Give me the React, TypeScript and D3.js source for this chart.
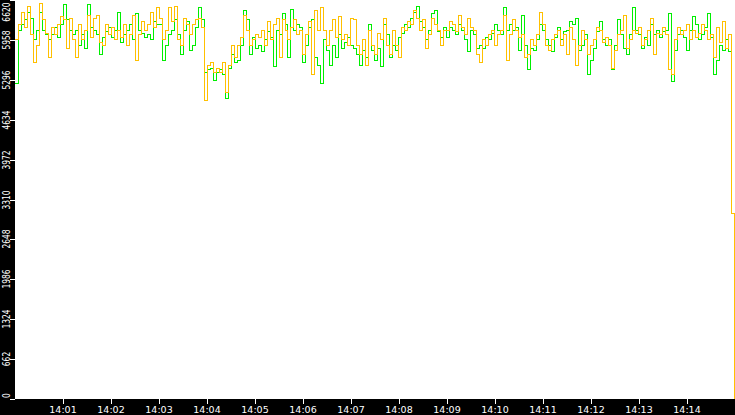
import React from "react";
import * as d3 from "d3";

const W = 735;
const H = 415;

const yTicks = [0, 662, 1324, 1986, 2648, 3310, 3972, 4634, 5296, 5958, 6620];
const xTickLabels = ["14:01", "14:02", "14:03", "14:04", "14:05", "14:06", "14:07", "14:08", "14:09", "14:10", "14:11", "14:12", "14:13", "14:14"];
const sampleSeconds = 3.75;

const orangeValues = [
  5960, 6210, 6420, 6160, 6520, 6040, 5590, 5870, 6570, 6290, 6070, 5660, 6160, 6040, 6210, 6340, 6290, 5820, 6320, 5960, 5660, 6210, 5960, 6120, 6370, 5990, 6320, 6370, 5920, 5870, 6210, 6040, 6160, 5960, 6120, 5990, 6210, 5870, 6040, 6370, 5620, 6040, 6260, 6120, 6210, 6420, 6160, 6490,
  6320, 5960, 6120, 6490, 6260, 6520, 5960, 5870, 6320, 6210, 6040, 6210, 6290, 6320, 6160, 4960, 5540, 5590, 5420, 5490, 5420, 5590, 5090, 5540, 5870, 5660, 5870, 5990, 6370, 6120, 5870, 5960, 6040, 5990, 6120, 5870, 6260, 5960, 6210, 6320, 5660, 6290, 6120, 5960, 6160, 6290, 6040, 6120,
  5710, 6040, 6260, 5380, 6450, 6120, 6490, 6120, 5870, 6120, 6290, 5990, 6340, 5960, 6040, 5870, 6320, 6290, 5870, 5710, 5960, 5540, 6120, 5870, 5710, 6070, 5960, 6320, 5870, 5710, 6120, 5870, 5660, 6160, 6120, 6260, 6210, 6450, 6320, 6120, 6290, 5820, 6040, 6320, 6210, 6120, 5870, 6120,
  6120, 6260, 6210, 6090, 6370, 6160, 6040, 6320, 6160, 6120, 5710, 5590, 5960, 5870, 6040, 6120, 5870, 6040, 6120, 6370, 5620, 6040, 6290, 6120, 5990, 6040, 5660, 5710, 5960, 5870, 6040, 6420, 6210, 5870, 5790, 5960, 6040, 6120, 5870, 6040, 5710, 6160, 5960, 5540, 5870, 6120, 5960, 5710,
  5870, 5960, 6160, 6120, 5920, 5990, 5870, 5490, 5790, 6040, 6120, 6370, 5820, 5960, 6120, 6070, 6160, 5870, 5960, 6120, 6320, 5710, 6070, 6040, 6160, 6040, 5460, 5380, 5960, 6160, 6040, 6120, 6210, 5960, 6120, 5990, 6070, 6210, 6120, 5960, 6040, 5660, 6160, 5920, 6260, 5820, 6040,
  3080, 0,
];

const greenValues = [
  5240, 6120, 6210, 6290, 6420, 6320, 5960, 6120, 6420, 6120, 6040, 5960, 6040, 6170, 5990, 6210, 6550, 6290, 6120, 6040, 6120, 5870, 6040, 5820, 6540, 6160, 6120, 6040, 5710, 5990, 6090, 6160, 5990, 6120, 6420, 5920, 6040, 6120, 6210, 5960, 6390, 6120, 6070, 5990, 6040, 5960, 6260, 6210,
  6210, 5620, 5870, 6040, 6120, 6290, 6040, 5710, 6120, 6260, 5790, 5870, 6160, 6490, 6290, 5420, 5460, 5490, 5290, 5420, 5460, 5380, 4990, 5490, 5710, 5590, 5620, 5870, 6450, 6290, 5710, 5990, 5820, 5870, 5760, 5960, 6090, 5990, 5520, 6120, 6040, 6390, 6210, 5660, 6470, 6120, 6210, 6160,
  5590, 5870, 6160, 6290, 5660, 5540, 5230, 5960, 5790, 5540, 5870, 5660, 6040, 5820, 5920, 5990, 5870, 5820, 5710, 5540, 5790, 5660, 6210, 5790, 5620, 5820, 5520, 6210, 6040, 5660, 5870, 5790, 5990, 6070, 6210, 6170, 6320, 6420, 6520, 6260, 6160, 5960, 6120, 6400, 6450, 6090, 5990, 6160,
  5990, 6160, 6120, 6040, 6210, 6120, 5960, 5760, 6120, 6040, 5820, 5870, 5820, 5990, 5960, 6070, 6210, 6120, 6040, 6490, 6120, 6210, 6120, 6160, 5790, 6370, 5870, 5460, 5820, 5790, 5960, 6210, 6120, 5960, 5870, 5760, 5990, 6160, 5960, 6090, 6120, 6260, 6210, 6320, 5790, 5870, 6040, 5380,
  5620, 5820, 6090, 6260, 5960, 5870, 5960, 5460, 5870, 6290, 6040, 5820, 5710, 6040, 6490, 6120, 6040, 5820, 5990, 5870, 6210, 6040, 6120, 5990, 6090, 6120, 6390, 5260, 5790, 6040, 6120, 5990, 5790, 6120, 6350, 6210, 5960, 6040, 6160, 6400, 5990, 5380, 5620, 5870, 5790, 5960, 5760,
  3080,
];

const plotLeft = 15.3;
const plotRight = 734.5;
const plotTop = 0;
const plotBottom = 399;

export default function App() {
  const x = d3.scaleLinear().domain([0, 900]).range([plotLeft, plotRight]);
  const y = d3.scaleLinear().domain([0, 6620]).range([plotBottom, plotTop]);

  const line = d3
    .line<number>()
    .x((_, i) => x(i * sampleSeconds))
    .y((v) => y(v))
    .curve(d3.curveStepAfter);

  const fmt = { fontFamily: "DejaVu Sans, sans-serif", fontSize: 9.5 } as const;
  const squeeze = 0.77;

  return (
    <svg
      width={W}
      height={H}
      style={{ position: "fixed", left: 0, top: 0, display: "block", background: "#fff" }}
    >
      <rect x={0} y={0} width={W} height={H} fill="#fff" />
      <g shapeRendering="crispEdges">
        <path d={line(greenValues) || ""} fill="none" stroke="#00ee00" strokeWidth={1} />
        <path d={line(orangeValues) || ""} fill="none" stroke="#ffc000" strokeWidth={1} />
      </g>
      <rect x={0} y={0} width={15} height={H} fill="#000" />
      <rect x={0} y={plotBottom} width={W} height={H - plotBottom} fill="#000" />
      {yTicks.map((t) => {
        const ty = Math.round(y(t));
        const label = String(t);
        const half = (label.length * 6.2 * squeeze) / 2;
        const cy = Math.min(Math.max(ty, half + 2.5), 398 - half);
        return (
          <g key={t}>
            <line x1={10} x2={15} y1={ty + 0.5} y2={ty + 0.5} stroke="#fff" strokeWidth={1} shapeRendering="crispEdges" />
            <text
              transform={`translate(9.6,${cy}) rotate(-90) scale(${squeeze},1)`}
              textAnchor="middle"
              fill="#fff"
              fontFamily="DejaVu Sans, sans-serif"
              fontSize={9.8}
            >
              {label}
            </text>
          </g>
        );
      })}
      {xTickLabels.map((lab, i) => {
        const tx = Math.round(x((i + 1) * 60));
        return (
          <g key={lab}>
            <line x1={tx + 0.5} x2={tx + 0.5} y1={plotBottom} y2={plotBottom + 5} stroke="#fff" strokeWidth={1} shapeRendering="crispEdges" />
            <text x={tx} y={413} textAnchor="middle" fill="#fff" {...fmt}>
              {lab}
            </text>
          </g>
        );
      })}
    </svg>
  );
}
